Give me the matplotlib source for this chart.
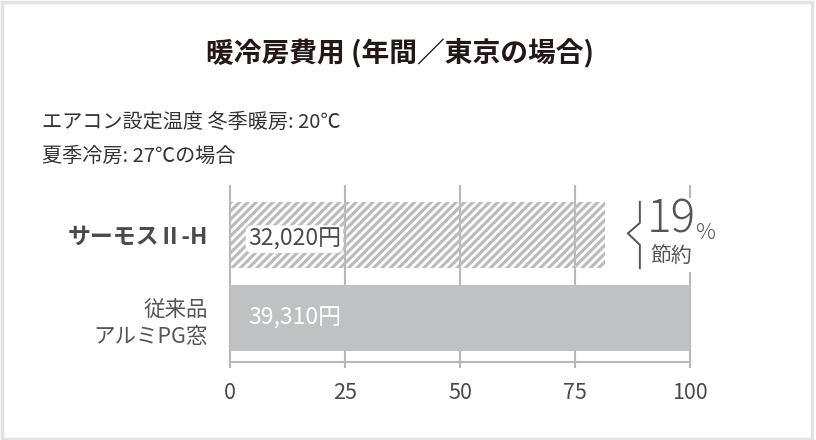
import matplotlib.pyplot as plt
from matplotlib.patches import Rectangle
import numpy as np

plt.rcParams['font.family'] = ['Noto Sans CJK JP', 'DejaVu Sans']
plt.rcParams['hatch.linewidth'] = 2.3

# data
categories = ["サーモスⅡ-H", "従来品\nアルミPG窓"]
costs = [32020, 39310]
cost_labels = ["32,020円", "39,310円"]
x_ticks = [0, 25, 50, 75, 100]

pct = [c / costs[1] * 100 for c in costs]
saving = round(100 - pct[0])

grid_c = "#b8b8b8"
text_c = "#4a4a4a"

fig = plt.figure(figsize=(8.16, 4.40), dpi=100)
ax = fig.add_axes([230 / 816, 1 - 362 / 440, 460 / 816, 176 / 440])

y = np.arange(len(categories))
ax.barh(y[1], pct[1], height=0.795, color="#c0c1c3", linewidth=0, zorder=2)
ax.barh(y[0], pct[0], height=0.795, facecolor="none", edgecolor="#bcbcbc",
        hatch="////", linewidth=0, zorder=2)

for t in x_ticks:
    ax.axvline(t, color=grid_c, lw=1.5, zorder=0.5, clip_on=False)

ax.set_xlim(0, 100)
ax.set_ylim(1.53, -0.59)
ax.set_xticks(x_ticks)
ax.set_xticklabels([str(t) for t in x_ticks], fontsize=15.5, color=text_c)
ax.set_yticks(y)
ax.set_yticklabels(categories)
ax.tick_params(axis="x", length=4.5, width=1.5, color=grid_c, pad=10)
ax.tick_params(axis="y", length=0, pad=16)
yl = ax.get_yticklabels()
yl[0].set_fontsize(16.5)
yl[0].set_fontweight("bold")
yl[0].set_color(text_c)
yl[1].set_fontsize(15.5)
yl[1].set_color("#555555")
yl[1].set_linespacing(1.35)

for s in ["top", "left", "right"]:
    ax.spines[s].set_visible(False)
ax.spines["bottom"].set_color(grid_c)
ax.spines["bottom"].set_linewidth(1.5)

# value labels
ax.text(3.9, 0.05, cost_labels[0], fontsize=16.5, color=text_c, va="center",
        ha="left", zorder=4,
        bbox=dict(boxstyle="round,pad=0.1,rounding_size=0.3", fc="white", ec="none"))
ax.text(3.9, 1.0, cost_labels[1], fontsize=16.5, color="white", va="center",
        ha="left", zorder=4)

# savings annotation
ax.add_patch(Rectangle((85.5, -0.44), 22, 0.88, facecolor="white",
                       edgecolor="none", zorder=1, clip_on=False))
bx = [89.1, 89.1, 86.5, 89.1, 89.1]
by = [-0.4, -0.145, -0.02, 0.12, 0.4]
ax.plot(bx, by, color="#555555", lw=1.4, zorder=3, clip_on=False)
ax.text(90.6, -0.03, str(saving), fontsize=33, fontweight="light", color="#555555",
        va="baseline", ha="left", zorder=4, clip_on=False)
ax.text(101.4, 0.05, "%", fontsize=16, fontweight="light", color="#555555",
        va="baseline", ha="left", zorder=4, clip_on=False)
ax.text(91.3, 0.27, "節約", fontsize=15, color="#555555", va="center",
        ha="left", zorder=4, clip_on=False)

# title and conditions
fig.text(400 / 816, 1 - 53 / 440, "暖冷房費用 (年間／東京の場合)", fontsize=20,
         fontweight="bold", color="#231815", ha="center", va="center")
fig.text(42 / 816, 1 - 122 / 440, "エアコン設定温度 冬季暖房: 20℃", fontsize=14.5,
         color="#333333", ha="left", va="center")
fig.text(42 / 816, 1 - 156 / 440, "夏季冷房: 27℃の場合", fontsize=14.5,
         color="#333333", ha="left", va="center")

# outer frame
fig.patches.append(Rectangle((0.002, 0.003), 0.993, 0.992, transform=fig.transFigure,
                             facecolor="none", edgecolor="#e2e2e2", lw=2.5))

fig.savefig("out.png", dpi=100)
